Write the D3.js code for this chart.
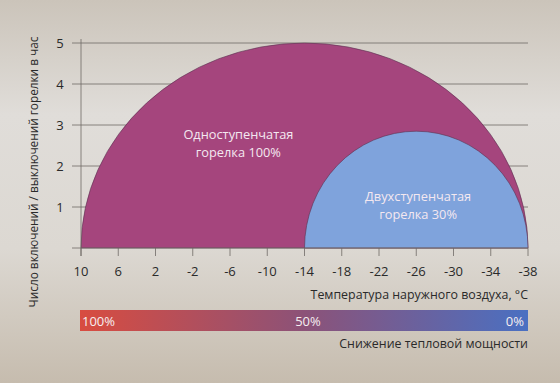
<!DOCTYPE html>
<html>
<head>
<meta charset="utf-8">
<script src="https://cdn.jsdelivr.net/npm/d3@7"></script>
<style>
  body { margin: 0; }
  svg { display: block; font-family: "Open Sans", sans-serif; }
</style>
</head>
<body>
<div id="main"></div>
<script>
var ctx = {
    w: 560,
    h: 383,
};

// data
var xTicks = [10, 6, 2, -2, -6, -10, -14, -18, -22, -26, -30, -34, -38];
var yTicks = [1, 2, 3, 4, 5];
var burnerNames = ["Одноступенчатая|горелка 100%", "Двухступенчатая|горелка 30%"];
var burnerStart = [10, -14];
var burnerEnd = [-38, -38];
var burnerPeak = [5, 2.85];
var burnerColors = ["#a5457d", "#7fa3dc"];
var powerLabels = ["100%", "50%", "0%"];
var powerStops = [1, 0.5, 0];

var x = d3.scaleLinear().domain([10, -38]).range([81, 528]);
var y = d3.scaleLinear().domain([0, 5]).range([248, 43]);

var svg = d3.select("#main").append("svg")
    .attr("width", ctx.w)
    .attr("height", ctx.h);

var defs = svg.append("defs");
var bg = defs.append("linearGradient").attr("id", "bg")
    .attr("x1", 0).attr("y1", 0).attr("x2", 0).attr("y2", 1);
bg.append("stop").attr("offset", "0%").attr("stop-color", "#cbc4ba");
bg.append("stop").attr("offset", "30%").attr("stop-color", "#e0ddd9");
bg.append("stop").attr("offset", "65%").attr("stop-color", "#dcd8d2");
bg.append("stop").attr("offset", "100%").attr("stop-color", "#c6bcae");

var pg = defs.append("linearGradient").attr("id", "pg")
    .attr("x1", 0).attr("y1", 0).attr("x2", 1).attr("y2", 0);
pg.append("stop").attr("offset", "0%").attr("stop-color", "#d84c40");
pg.append("stop").attr("offset", "50%").attr("stop-color", "#8c5278");
pg.append("stop").attr("offset", "100%").attr("stop-color", "#4a70c2");

svg.append("rect").attr("width", ctx.w).attr("height", ctx.h).attr("fill", "url(#bg)");

// grid
svg.append("g").selectAll("line")
    .data(yTicks)
    .enter()
    .append("line")
    .attr("x1", 72).attr("x2", x(-38))
    .attr("y1", function(d){ return y(d); })
    .attr("y2", function(d){ return y(d); })
    .attr("stroke", "#6e6a66").attr("stroke-width", 0.8);

// half ellipses
svg.append("g").selectAll("path")
    .data(burnerStart)
    .enter()
    .append("path")
    .attr("d", function(d, i){
        var x0 = x(d), x1 = x(burnerEnd[i]);
        var rx = (x1 - x0) / 2, ry = y(0) - y(burnerPeak[i]);
        return "M" + x0 + "," + y(0) + " A" + rx + "," + ry + " 0 0 1 " + x1 + "," + y(0) + " Z";
    })
    .attr("fill", function(d, i){ return burnerColors[i]; })
    .attr("stroke", "#5a3350").attr("stroke-width", 0.6);

// labels inside
var labelPos = [[-6.9, 2.65], [-26.2, 1.15]];
burnerNames.forEach(function(name, i){
    var t = svg.append("text")
        .attr("x", x(labelPos[i][0]))
        .attr("y", y(labelPos[i][1]))
        .attr("text-anchor", "middle")
        .attr("fill", "#f4e8f0")
        .attr("font-size", 12.8);
    name.split("|").forEach(function(s, k){
        t.append("tspan").attr("x", x(labelPos[i][0])).attr("dy", k ? 18 : 0).text(s);
    });
});

// y axis
svg.append("line").attr("x1", x(10)).attr("x2", x(10))
    .attr("y1", y(5) - 4).attr("y2", y(0) + 8)
    .attr("stroke", "#6e6a66").attr("stroke-width", 0.8);
svg.append("line").attr("x1", 72).attr("x2", x(-38))
    .attr("y1", y(0)).attr("y2", y(0))
    .attr("stroke", "#6e6a66").attr("stroke-width", 0.8);

svg.append("g").selectAll("text")
    .data(yTicks)
    .enter()
    .append("text")
    .attr("x", 60).attr("y", function(d){ return y(d) + 5; })
    .attr("text-anchor", "middle")
    .attr("font-size", 13).attr("fill", "#2a2a2a")
    .text(function(d){ return d; });

// x ticks
svg.append("g").selectAll("line")
    .data(xTicks)
    .enter()
    .append("line")
    .attr("x1", function(d){ return x(d); })
    .attr("x2", function(d){ return x(d); })
    .attr("y1", y(0)).attr("y2", y(0) + 8)
    .attr("stroke", "#6e6a66").attr("stroke-width", 0.8);

svg.append("g").selectAll("text")
    .data(xTicks)
    .enter()
    .append("text")
    .attr("x", function(d){ return x(d); })
    .attr("y", 276)
    .attr("text-anchor", "middle")
    .attr("font-size", 13).attr("fill", "#2a2a2a")
    .text(function(d){ return d; });

svg.append("text")
    .attr("x", 528).attr("y", 299)
    .attr("text-anchor", "end")
    .attr("font-size", 12.4).attr("fill", "#2a2a2a")
    .text("Температура наружного воздуха, °С");

svg.append("text")
    .attr("transform", "translate(38,172) rotate(-90)")
    .attr("text-anchor", "middle")
    .attr("font-size", 11.8).attr("fill", "#2a2a2a")
    .text("Число включений / выключений горелки в час");

// power bar
var p = d3.scaleLinear().domain([1, 0]).range([80, 528]);
svg.append("rect")
    .attr("x", p(1)).attr("y", 310)
    .attr("width", p(0) - p(1)).attr("height", 21)
    .attr("fill", "url(#pg)");

svg.append("g").selectAll("text")
    .data(powerStops)
    .enter()
    .append("text")
    .attr("x", function(d, i){ return i == 0 ? p(d) + 2 : (i == 2 ? p(d) - 4 : p(d) + 4); })
    .attr("y", 325.5)
    .attr("text-anchor", function(d, i){ return i == 0 ? "start" : (i == 2 ? "end" : "middle"); })
    .attr("font-size", 13).attr("fill", "#f6eef0")
    .text(function(d, i){ return powerLabels[i]; });

svg.append("text")
    .attr("x", 528).attr("y", 348)
    .attr("text-anchor", "end")
    .attr("font-size", 12.4).attr("fill", "#2a2a2a")
    .text("Снижение тепловой мощности");
</script>
</body>
</html>
